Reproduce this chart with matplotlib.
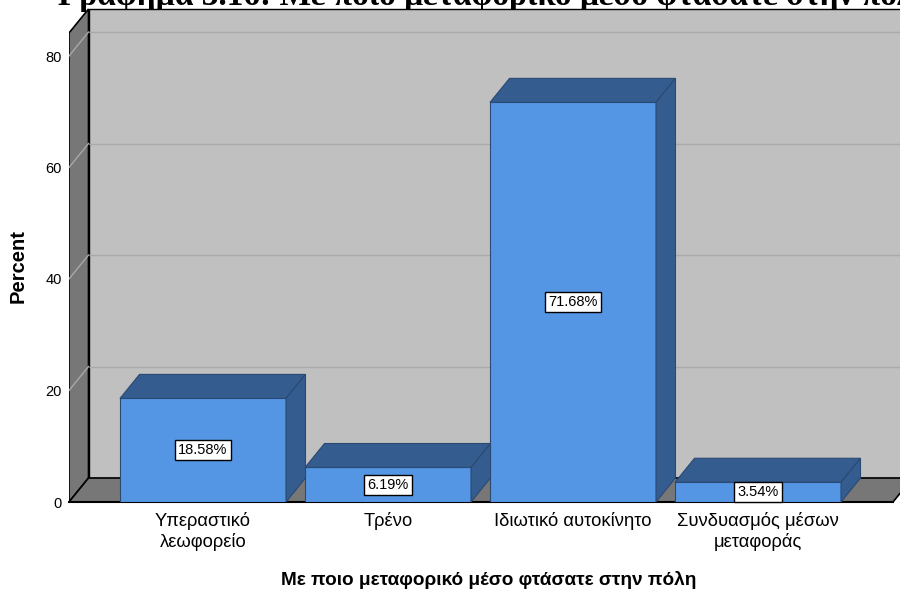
import matplotlib
matplotlib.use("Agg")
import matplotlib.pyplot as plt
from matplotlib.patches import Polygon

categories = ["Υπεραστικό\nλεωφορείο", "Τρένο", "Ιδιωτικό αυτοκίνητο",
              "Συνδυασμός μέσων\nμεταφοράς"]
percents = [18.58, 6.19, 71.68, 3.54]
yticks = [0, 20, 40, 60, 80]

title = "Γράφημα 3.16: Με ποιο μεταφορικό μέσο φτάσατε στην πόλη"
xlabel = "Με ποιο μεταφορικό μέσο φτάσατε στην πόλη"
ylabel = "Percent"

FRONT = "#5496e4"
DARK = "#345c8f"
WALL = "#c0c0c0"
SIDE = "#777777"
GRID = "#a9a9a9"

plt.rcParams["font.family"] = ["Liberation Sans", "DejaVu Sans"]

W, H = 900, 594
fig = plt.figure(figsize=(9, 5.94), dpi=100)

# axes: left edge = front of the side wall, bottom = floor front edge
left_px, bottom_px = 69, 502
ax = fig.add_axes([left_px / W, (H - bottom_px) / H, (W - left_px) / W, bottom_px / H])
ax.set_facecolor("none")
ax.set_zorder(1)

px_x = 185.0     # pixels per category
px_y = 5.575     # pixels per percent
x_first = 203    # pixel centre of first category
x_lo = (left_px - x_first) / px_x
x_hi = (W - x_first) / px_x
y_hi = bottom_px / px_y
ax.set_xlim(x_lo, x_hi)
ax.set_ylim(0, y_hi)

dx = 19.5 / px_x   # depth offset
dy = 24 / px_y
x_end = (893 - x_first) / px_x
top_back = (bottom_px - 9) / px_y
top_front = top_back - dy

# walls and floor
ax.add_patch(Polygon([(x_lo + dx, dy), (x_end + dx, dy), (x_end + dx, top_back),
                      (x_lo + dx, top_back)], closed=True, fc=WALL, ec="black", lw=1, zorder=1))
ax.add_patch(Polygon([(x_lo, 0), (x_lo + dx, dy), (x_lo + dx, top_back), (x_lo, top_front)],
                     closed=True, fc=SIDE, ec="black", lw=1.2, zorder=2))
ax.add_patch(Polygon([(x_lo, 0), (x_end, 0), (x_end + dx, dy), (x_lo + dx, dy)],
                     closed=True, fc=SIDE, ec="black", lw=1.2, zorder=2))

for t in yticks[1:]:
    ax.plot([x_lo + dx, x_end + dx], [t + dy, t + dy], color=GRID, lw=1, zorder=1.5)
    ax.plot([x_lo, x_lo + dx], [t, t + dy], color=GRID, lw=1, zorder=2.5)

# 3D bars
bw = 166 / px_x
xs = list(range(len(categories)))
ax.bar(xs, percents, width=bw, color=FRONT, edgecolor="#2b4a73", lw=0.8, zorder=4)
for x, v in zip(xs, percents):
    l, r = x - bw / 2, x + bw / 2
    ax.add_patch(Polygon([(l, v), (l + dx, v + dy), (r + dx, v + dy), (r, v)],
                         closed=True, fc=DARK, ec="#2b4a73", lw=0.8, zorder=4))
    ax.add_patch(Polygon([(r, 0), (r + dx, dy), (r + dx, v + dy), (r, v)],
                         closed=True, fc=DARK, ec="#2b4a73", lw=0.8, zorder=4))
    ax.text(x, v / 2, f"{v:.2f}%", ha="center", va="center", fontsize=10.5, zorder=5,
            bbox=dict(boxstyle="square,pad=0.2", fc="white", ec="black", lw=1))

ax.plot([x_lo, x_end], [0, 0], color="black", lw=1.5, zorder=3, clip_on=False)

for s in ax.spines.values():
    s.set_visible(False)
ax.set_yticks(yticks)
ax.set_yticklabels([str(t) for t in yticks], fontsize=10.5)
ax.set_xticks(xs)
ax.set_xticklabels(categories, fontsize=13.2, linespacing=1.2)
ax.tick_params(axis="y", length=0, pad=5)
ax.tick_params(axis="x", length=0, pad=7)

ax.set_xlabel(xlabel, fontsize=13.7, fontweight="bold", va="center")
ax.xaxis.set_label_coords((489 - left_px) / (W - left_px), (bottom_px - 580) / bottom_px)
ax.set_ylabel(ylabel, fontsize=14.5, fontweight="bold", va="center")
ax.yaxis.set_label_coords((18 - left_px) / (W - left_px), (bottom_px - 266) / bottom_px)

# title is cropped at the top edge in the source image
t = fig.text(58 / W, (H - 5) / H, title, fontsize=24, fontweight="bold",
             family=["Liberation Serif", "DejaVu Serif"], ha="left", va="baseline")
t.set_zorder(0)

fig.savefig("out.png", dpi=100)
